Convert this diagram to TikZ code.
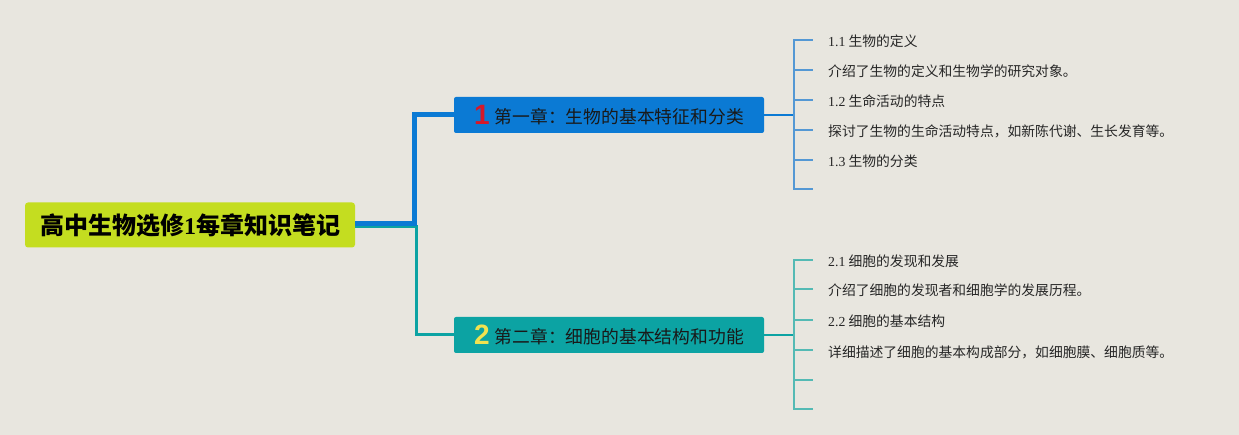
\documentclass[tikz,border=0pt]{standalone}
\usepackage{fontspec}
\setmainfont{Liberation Serif}
\newfontfamily\cjk{Noto Sans CJK SC}
\newfontfamily\numfont{Liberation Sans}
\definecolor{bgcol}{RGB}{232,230,223}
\definecolor{rootcol}{RGB}{196,221,32}
\definecolor{bluecol}{RGB}{11,122,212}
\definecolor{tealcol}{RGB}{12,163,163}
\definecolor{bluelite}{RGB}{84,152,212}
\definecolor{teallite}{RGB}{84,186,180}
\definecolor{redcol}{RGB}{214,24,40}
\definecolor{yelcol}{RGB}{240,226,80}

\begin{document}
\begin{tikzpicture}[x=1pt, y=-1pt,
    rootbox/.style={fill=rootcol, rounded corners=3pt, minimum width=330pt, minimum height=45pt, inner sep=0pt, font=\cjk\bfseries\fontsize{24}{26}\selectfont},
    chapbox/.style={rounded corners=2pt, minimum width=310pt, minimum height=36pt, inner sep=0pt, text=black!90, font=\cjk\fontsize{17.8}{19}\selectfont},
    leaf/.style={anchor=west, inner xsep=15pt, inner ysep=0pt, text height=16pt, text depth=2pt, text=black!85, font=\cjk\fontsize{13.8}{15}\selectfont}]
    \fill[bgcol] (0,0) rectangle (1239,435);
    \node[rootbox] (root) at (190,225) {高中生物选修{\rmfamily 1}每章知识笔记};
    \node[chapbox, fill=bluecol] (c1) at (609,115) {\raisebox{-1pt}{\numfont\bfseries\fontsize{28}{28}\selectfont\color{redcol}1}\hspace{5pt}第一章：生物的基本特征和分类};
    \node[chapbox, fill=tealcol] (c2) at (609,335) {\raisebox{-1pt}{\numfont\bfseries\fontsize{28}{28}\selectfont\color{yelcol}2}\hspace{5pt}第二章：细胞的基本结构和功能};
    \coordinate (r1) at (414,224);
    \coordinate (r2) at (416,227);
        \draw[tealcol, line width=3pt] (root.east |- r2) -- (r2) |- (c2.west);
        \draw[bluecol, line width=5pt] (root.east |- r1) -- (r1) |- (c1.west);
    % chapter 1
    \coordinate (k1) at (794,115);
    \node[leaf] (a1) at (813,40) {{\rmfamily 1.1} 生物的定义};
    \node[leaf] (a2) at (813,70) {介绍了生物的定义和生物学的研究对象。};
    \node[leaf] (a3) at (813,100) {{\rmfamily 1.2} 生命活动的特点};
    \node[leaf] (a4) at (813,130) {探讨了生物的生命活动特点，如新陈代谢、生长发育等。};
    \node[leaf] (a5) at (813,160) {{\rmfamily 1.3} 生物的分类};
    \node[leaf] (a6) at (813,189) {};
        \draw[bluecol, line width=1.5pt] (c1.east) -- (k1);
        \draw[bluelite, line width=1.2pt] (k1) |- (a1.west) (k1) |- (a2.west) (k1) |- (a3.west) (k1) |- (a4.west) (k1) |- (a5.west) (k1) |- (a6.west);
    % chapter 2
    \coordinate (k2) at (794,335);
    \node[leaf] (b1) at (813,260) {{\rmfamily 2.1} 细胞的发现和发展};
    \node[leaf] (b2) at (813,289) {介绍了细胞的发现者和细胞学的发展历程。};
    \node[leaf] (b3) at (813,320) {{\rmfamily 2.2} 细胞的基本结构};
    \node[leaf] (b4) at (813,350) {详细描述了细胞的基本构成部分，如细胞膜、细胞质等。};
    \node[leaf] (b5) at (813,380) {};
    \node[leaf] (b6) at (813,409) {};
        \draw[tealcol, line width=1.5pt] (c2.east) -- (k2);
        \draw[teallite, line width=1.2pt] (k2) |- (b1.west) (k2) |- (b2.west) (k2) |- (b3.west) (k2) |- (b4.west) (k2) |- (b5.west) (k2) |- (b6.west);
\end{tikzpicture}
\end{document}
